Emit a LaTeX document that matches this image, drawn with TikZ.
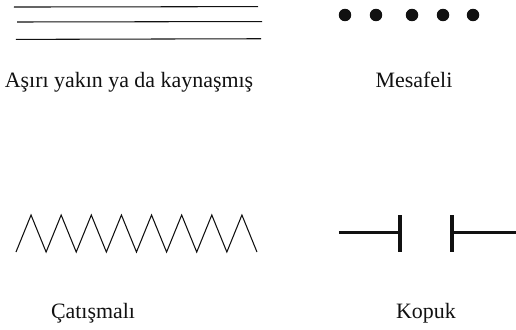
\documentclass[tikz,border=0pt]{standalone}
\usepackage{fontspec}
\setmainfont{Liberation Serif}
\usepackage{xcolor}
\definecolor{lineInk}{HTML}{111111}
\usetikzlibrary{positioning}

\begin{document}
\begin{tikzpicture}[
  every node/.style={font=\fontsize{16.5}{20}\selectfont, inner sep=0pt},
  caption/.style={anchor=base, text=lineInk},
  thinline/.style={draw=lineInk, line width=0.8pt},
  thickline/.style={draw=lineInk, line width=2.3pt},
  dot/.style={circle, fill=lineInk, minimum size=0.33cm},
]
\useasboundingbox (0,0) rectangle (13.652,8.705);

% Close / fused: three lines
\draw[thinline] (0.370,8.519) -- (6.826,8.530);
\draw[thinline] (0.450,8.123) -- (6.932,8.135);
\draw[thinline] (0.423,7.663) -- (6.906,7.680);
\node[caption] (fused) at (3.413,6.403) {Aşırı yakın ya da kaynaşmış};

% Spaced: dots
\foreach \x [count=\i] in {9.128, 9.948, 10.901, 11.721, 12.515}
  \node[dot] (d\i) at (\x,8.308) {};
\node[caption] (spaced) at (10.954,6.403) {Mesafeli};

% Conflicting: zigzag
\draw[thinline] (0.423,2.037)
  \foreach \k in {0,...,7} { -- ++(0.3985,0.979) -- ++(0.3985,-0.979) };
\node[caption] (conflict) at (2.461,0.291) {Çatışmalı};

% Cut off
\coordinate (la) at (8.969,2.566);
\coordinate (lb) at (10.583,2.566);
\coordinate (ra) at (11.959,2.566);
\coordinate (rb) at (13.652,2.566);
\draw[thickline] (la) -- (lb);
\draw[thickline] ([yshift=0.45cm]lb) -- ([yshift=-0.53cm]lb);
\draw[thickline] ([yshift=0.45cm]ra) -- ([yshift=-0.53cm]ra);
\draw[thickline] (ra) -- (rb);
\node[caption] (cutoff) at (11.271,0.291) {Kopuk};

\end{tikzpicture}
\end{document}
